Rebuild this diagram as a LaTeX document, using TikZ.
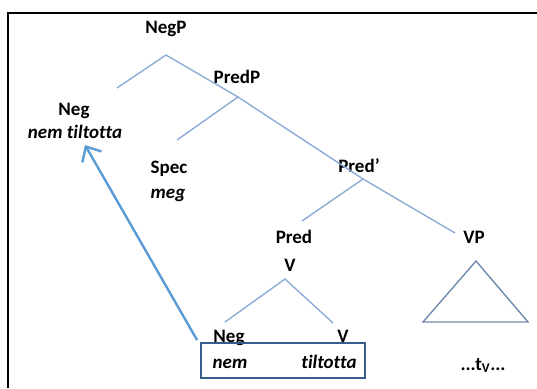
\documentclass[tikz,border=0pt]{standalone}
\usepackage{fontspec}
\setmainfont[Ligatures=CommonOff]{Carlito}
\usepackage{tikz}
\usetikzlibrary{arrows.meta}
\definecolor{treeblue}{RGB}{140,172,214}
\definecolor{arrowblue}{RGB}{91,155,213}
\definecolor{boxblue}{RGB}{56,93,138}
\tikzset{
    lbl/.style={font=\fontsize{19}{22}\selectfont\bfseries, inner sep=0pt, anchor=base},
    wrd/.style={font=\fontsize{19}{22}\selectfont\bfseries\itshape, inner sep=0pt, anchor=base},
    branch/.style={draw=treeblue, line width=1.4pt},
}

\begin{document}
\begin{tikzpicture}[x=1pt, y=-1pt]
    \useasboundingbox (0,0) rectangle (537,388);
    \draw[line width=2.5pt] (8,388) -- (8,13) -- (537,13);
    \node[lbl] (negp) at (166,33) {NegP};
    \node[lbl] (predp) at (237,83) {PredP};
    \node[lbl] (neg) at (74,115) {Neg};
    \node[wrd] (negw) at (75,138) {nem tiltotta};
    \node[lbl] (spec) at (169,173) {Spec};
    \node[wrd] (meg) at (168,198) {meg};
    \node[lbl] (predbar) at (359,172) {Pred’};
    \node[lbl] (pred) at (294,243) {Pred};
    \node[lbl] (predv) at (290,271) {V};
    \node[lbl] (vp) at (474,243) {VP};
    \node[lbl] (negb) at (229,342) {Neg};
    \node[lbl] (vb) at (343,342) {V};
    \node[wrd] (nem) at (230,368) {nem};
    \node[wrd] (tilt) at (329,368) {tiltotta};
    \node[lbl] (trace) at (483,370) {...t\textsubscript{V}...};
    \node[draw=boxblue, line width=1.8pt, minimum width=164pt, minimum height=35pt, inner sep=0pt] (boxed) at (283,360.5) {};
    \coordinate (x1) at (166,55);
    \coordinate (x2) at (238,97);
    \coordinate (x3) at (363,179);
    \coordinate (x4) at (285,279);
    \draw[branch] (117,88) -- (x1) -- (x2);
    \draw[branch] (177,140) -- (x2) -- (x3);
    \draw[branch] (302,221) -- (x3) -- (455,233);
    \draw[branch] (225,322) -- (x4) -- (333,323);
    \draw[branch, draw=treeblue!80!black] (476,261) -- (423,322) -- (528,322) -- cycle;
    \coordinate (tip) at (85,145);
    \draw[draw=arrowblue, line width=2.4pt, -{Straight Barb[length=12pt, width=22pt, line width=2.4pt]}]
        ([xshift=-3pt, yshift=2pt]boxed.north west) -- (tip);
\end{tikzpicture}
\end{document}
